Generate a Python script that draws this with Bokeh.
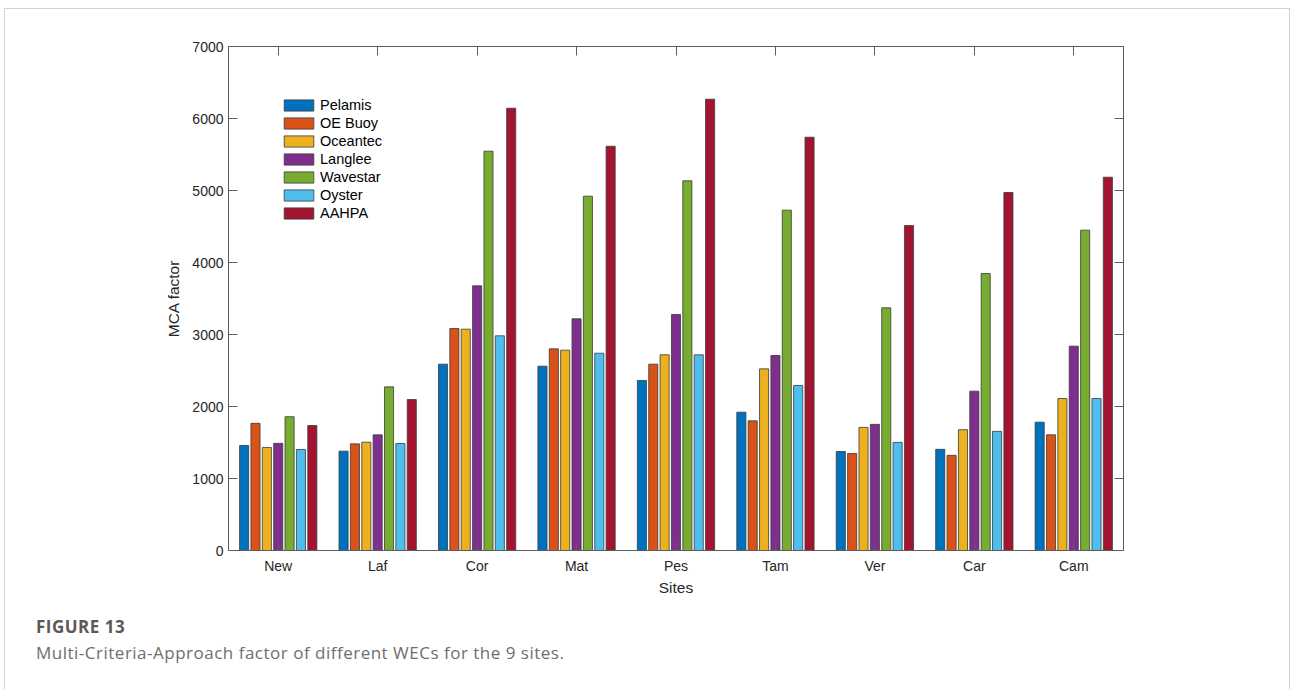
from bokeh.plotting import figure
from bokeh.layouts import column
from bokeh.models import (ColumnDataSource, FixedTicker, LinearAxis, Legend,
                          LegendItem, Range1d, Div)
from bokeh.embed import file_html
from bokeh.resources import INLINE

# MCA factor per wave energy converter at each site
sites = ["New", "Laf", "Cor", "Mat", "Pes", "Tam", "Ver", "Car", "Cam"]
devices = ["Pelamis", "OE Buoy", "Oceantec", "Langlee", "Wavestar", "Oyster", "AAHPA"]
pelamis = [1458, 1380, 2588, 2560, 2362, 1921, 1375, 1405, 1782]
oe_buoy = [1766, 1481, 3083, 2801, 2588, 1801, 1347, 1322, 1607]
oceantec = [1431, 1504, 3074, 2782, 2718, 2523, 1710, 1678, 2111]
langlee = [1488, 1606, 3676, 3218, 3278, 2708, 1752, 2213, 2838]
wavestar = [1858, 2273, 5546, 4921, 5135, 4727, 3371, 3847, 4449]
oyster = [1403, 1486, 2982, 2740, 2718, 2292, 1502, 1655, 2111]
aahpa = [1736, 2097, 6143, 5615, 6268, 5740, 4514, 4972, 5185]
y_ticks = [0, 1000, 2000, 3000, 4000, 5000, 6000, 7000]

series = [pelamis, oe_buoy, oceantec, langlee, wavestar, oyster, aahpa]
colors = ["#0072BD", "#D95319", "#EDB120", "#7E2F8E", "#77AC30", "#4DBEEE", "#A2142F"]

caption_head = "FIGURE 13"
caption_body = "Multi-Criteria-Approach factor of different WECs for the 9 sites."

FONT = "Liberation Sans"
AX = "#5c5c5c"
W = 1284

p = figure(width=W, height=600, output_backend="svg", toolbar_location=None,
           x_range=Range1d(0.5, 9.5), y_range=Range1d(0, 7000),
           min_border_left=223, min_border_right=166, min_border_top=37,
           min_border_bottom=59, background_fill_color="white",
           border_fill_color="white")
p.xgrid.visible = False
p.ygrid.visible = False
p.outline_line_color = None

# grouped bars: 7 bars share 0.8 of each category slot
n = len(series)
step = 0.8 / n
positions = list(range(1, len(sites) + 1))
items = []
for j, (vals, col, name) in enumerate(zip(series, colors, devices)):
    src = ColumnDataSource(dict(x=[c + (j - (n - 1) / 2) * step for c in positions],
                                top=vals))
    r = p.vbar(x="x", top="top", bottom=0, width=step * 0.8, source=src,
               fill_color=col, line_color="#3a3a3a", line_width=0.8)
    items.append(LegendItem(label=name, renderers=[r]))

label_map = {i + 1: s for i, s in enumerate(sites)}


def style_axis(ax, show_labels):
    ax.axis_line_color = AX
    ax.major_tick_line_color = AX
    ax.minor_tick_line_color = None
    ax.major_tick_in = 9
    ax.major_tick_out = 0
    ax.major_label_text_font = FONT
    ax.major_label_text_font_size = "14px"
    ax.major_label_text_color = "#262626" if show_labels else None
    ax.axis_label_text_font = FONT
    ax.axis_label_text_font_size = "15.5px"
    ax.axis_label_text_font_style = "normal"
    ax.axis_label_text_color = "#262626"


# bottom and left axes
p.xaxis.ticker = FixedTicker(ticks=positions)
p.xaxis.major_label_overrides = label_map
p.xaxis.axis_label = "Sites"
p.xaxis.major_label_standoff = 7
p.xaxis.axis_label_standoff = 2
style_axis(p.xaxis[0], True)

p.yaxis.ticker = FixedTicker(ticks=y_ticks)
p.yaxis.axis_label = "MCA factor"
p.yaxis.major_label_standoff = 5
p.yaxis.axis_label_standoff = 7
style_axis(p.yaxis[0], True)

# box: top and right axes with ticks only
top_ax = LinearAxis(ticker=FixedTicker(ticks=positions))
style_axis(top_ax, False)
p.add_layout(top_ax, "above")
right_ax = LinearAxis(ticker=FixedTicker(ticks=y_ticks))
style_axis(right_ax, False)
p.add_layout(right_ax, "right")

legend = Legend(items=items, location=(52, 329), padding=0, margin=0,
                spacing=2, glyph_width=37, glyph_height=14, label_height=14,
                label_standoff=3, label_text_font=FONT,
                label_text_font_size="14.5px", label_text_color="#000000",
                border_line_color=None, background_fill_alpha=0)
p.add_layout(legend, "center")

# caption block under the chart
cap_html = (
    '<div style="font-family:\'Open Sans\';font-size:17px;line-height:26px;'
    'letter-spacing:0.5px;padding:5.4px 0 0 31px;margin:0;white-space:nowrap;">'
    f'<div style="font-weight:bold;color:#595959;">{caption_head}</div>'
    f'<div style="color:#6e6e6e;">{caption_body}</div>'
    '</div>'
)
cap = Div(text=cap_html, width=W, height=80, margin=0,
          styles={"background-color": "white"})

page = column(p, cap, spacing=0,
              styles={"margin-left": "4px", "margin-top": "8px",
                      "border-left": "1px solid #d2d2d2",
                      "border-top": "1px solid #d2d2d2",
                      "border-right": "1px solid #d2d2d2"})

open("out.html", "w").write(file_html(page, INLINE))
